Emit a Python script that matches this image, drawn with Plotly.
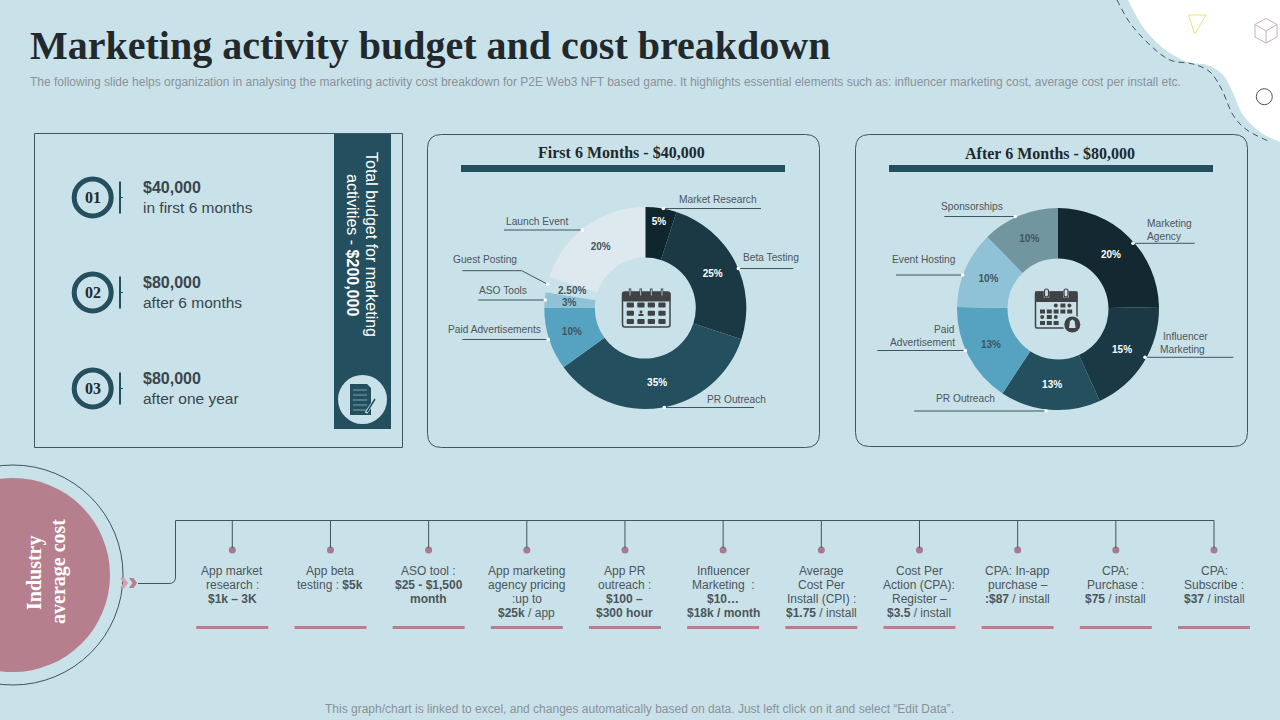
import plotly.graph_objects as go

BG = "#C9E1E9"
TEAL = "#234F5E"
ROSE = "#B67F8D"
LINE = "#3F5560"
TXT = "#4C565B"
DARK = "#3A464C"
ICON = "#404346"

# first donut
first_labels = ["Market Research", "Beta Testing", "PR Outreach", "Paid Advertisements",
                "ASO Tools", "Guest Posting", "Launch Event"]
first_values = [5, 25, 35, 10, 2.5, 2.5, 20]
first_text = ["5%", "25%", "35%", "10%", "", "", "20%"]
first_colors = ["#10262D", "#1B3945", "#234F5E", "#55A3C0", "#90C2D7", "#C9E1E9", "#DDE9EE"]
first_textcol = ["white", "white", "white", "#3F5560", "#3F5560", "#3F5560", "#3F5560"]

# second donut
second_labels = ["Marketing Agency", "Influencer Marketing", "PR Outreach",
                 "Paid Advertisement", "Event Hosting", "Sponsorships"]
second_values = [20, 15, 13, 13, 10, 10]
second_text = ["20%", "15%", "13%", "13%", "10%", "10%"]
second_colors = ["#132830", "#1B3945", "#234F5E", "#55A3C0", "#90C2D7", "#71969F"]
second_textcol = ["white", "white", "white", "#3F5560", "#3F5560", "#3F5560"]

budget_amounts = ["$40,000", "$80,000", "$80,000"]
budget_notes = ["in first 6 months", "after 6 months", "after one year"]

cost_lines = [
    ["App market", "research :", "<b>$1k – 3K</b>"],
    ["App beta", "testing : <b>$5k</b>"],
    ["ASO tool :", "<b>$25 - $1,500</b>", "<b>month</b>"],
    ["App marketing", "agency pricing", ":up to", "<b>$25k</b> / app"],
    ["App PR", "outreach :", "<b>$100 –</b>", "<b>$300 hour</b>"],
    ["Influencer", "Marketing  :", "<b>$10…</b>", "<b>$18k / month</b>"],
    ["Average", "Cost Per", "Install (CPI) :", "<b>$1.75</b> / install"],
    ["Cost Per", "Action (CPA):", "Register –", "<b>$3.5</b> / install"],
    ["CPA: In-app", "purchase –", "<b>:$87</b> / install"],
    ["CPA:", "Purchase :", "<b>$75</b> / install"],
    ["CPA:", "Subscribe :", "<b>$37</b> / install"],
]

W, H = 1280, 720
shapes = []
notes = []


def rect(x0, y0, x1, y1, fill, layer="below"):
    shapes.append(dict(type="rect", x0=x0, y0=y0, x1=x1, y1=y1, fillcolor=fill,
                       line_width=0, layer=layer))


def seg(pts, color=LINE, width=1, layer="above", dash=None):
    d = "M" + " L".join(f"{x},{y}" for x, y in pts)
    shapes.append(dict(type="path", path=d, line=dict(color=color, width=width, dash=dash), layer=layer))


def poly(pts, fill, layer="above"):
    d = "M" + " L".join(f"{x},{y}" for x, y in pts) + " Z"
    shapes.append(dict(type="path", path=d, fillcolor=fill, line_width=0, layer=layer))


def circle(cx, cy, r, fill=None, color=None, width=0, layer="above"):
    shapes.append(dict(type="circle", x0=cx - r, y0=cy - r, x1=cx + r, y1=cy + r,
                       fillcolor=fill or "rgba(0,0,0,0)",
                       line=dict(color=color or "rgba(0,0,0,0)", width=width), layer=layer))


def rrect(x0, y0, x1, y1, r, color=LINE, width=1, fill=None, layer="below"):
    d = (f"M{x0+r},{y0} L{x1-r},{y0} Q{x1},{y0} {x1},{y0+r} L{x1},{y1-r} Q{x1},{y1} {x1-r},{y1} "
         f"L{x0+r},{y1} Q{x0},{y1} {x0},{y1-r} L{x0},{y0+r} Q{x0},{y0} {x0+r},{y0} Z")
    shapes.append(dict(type="path", path=d, line=dict(color=color, width=width),
                       fillcolor=fill or "rgba(0,0,0,0)", layer=layer))


def smooth(pts):
    # catmull-rom through the points, gives the wavy corner outline
    d = f"M{pts[0][0]},{pts[0][1]}"
    for i in range(len(pts) - 1):
        p0 = pts[max(i - 1, 0)]
        p1, p2 = pts[i], pts[i + 1]
        p3 = pts[min(i + 2, len(pts) - 1)]
        c1 = (p1[0] + (p2[0] - p0[0]) / 6, p1[1] + (p2[1] - p0[1]) / 6)
        c2 = (p2[0] - (p3[0] - p1[0]) / 6, p2[1] - (p3[1] - p1[1]) / 6)
        d += f" C{c1[0]:.1f},{c1[1]:.1f} {c2[0]:.1f},{c2[1]:.1f} {p2[0]},{p2[1]}"
    return d


def text(x, y, s, size=12, color=TXT, font="Liberation Sans", anchor="center", vanchor="middle", angle=0):
    notes.append(dict(x=x, y=y, text=s, showarrow=False, xanchor=anchor, yanchor=vanchor,
                      textangle=angle, borderpad=0, borderwidth=0,
                      font=dict(family=font, size=size, color=color)))


def leader(pts):
    seg(pts, color=LINE, width=1)
    circle(pts[-1][0], pts[-1][1], 1.8, fill="white")


# corner blob
blob = [(1128, 0), (1143, 27), (1163, 48), (1187, 62), (1207, 65), (1223, 75), (1233, 93),
        (1243, 115), (1260, 132), (1280, 142)]
shapes.append(dict(type="path", path=smooth(blob) + " L1280,0 Z", fillcolor="white", line_width=0, layer="below"))
dash_pts = [(1117, 0), (1130, 23), (1150, 45), (1170, 60), (1193, 64), (1210, 72), (1222, 90),
            (1233, 115), (1247, 130), (1268, 141)]
shapes.append(dict(type="path", path=smooth(dash_pts), line=dict(color=LINE, width=1, dash="6px,4px"), layer="below"))
seg([(1188.5, 15), (1206, 15), (1194.7, 34), (1188.5, 15)], color="#EFE27A", width=1)
hex_pts = [(1266, 18.5), (1277, 24.5), (1277, 37), (1266, 43), (1255, 37), (1255, 24.5), (1266, 18.5)]
seg(hex_pts, color="#C9AEBB", width=1)
seg([(1255, 24.5), (1266, 31), (1277, 24.5)], color="#C9AEBB", width=1)
seg([(1266, 31), (1266, 43)], color="#C9AEBB", width=1)
circle(1264.3, 96.7, 8, color=LINE, width=1)

# title block
text(30, 45, "<b>Marketing activity budget and cost breakdown</b>", size=40, color="#22292D",
     font="Liberation Serif", anchor="left")
text(30, 81.5, "The following slide helps organization in analysing the marketing activity cost breakdown "
     "for P2E Web3 NFT based game. It highlights essential elements such as: influencer marketing cost, "
     "average cost per install etc.", size=12, color="#8A9299", anchor="left")
text(639, 708.5, "This graph/chart is linked to excel, and changes automatically based on data. "
     "Just left click on it and select “Edit Data”.", size=12, color="#8A9299")

# left panel
shapes.append(dict(type="rect", x0=34.5, y0=133.5, x1=402.5, y1=447.5, line=dict(color=LINE, width=1), layer="below"))
rect(334, 134, 391, 429, TEAL)
text(371.5, 244.5, "Total budget for marketing", size=16, color="white", angle=90)
text(352.5, 244.5, "activities - <b>$200,000</b>", size=16, color="white", angle=90)
circle(362.5, 399.5, 24.5, fill="#C9E1E9")
poly([(350, 384), (367, 384), (371, 388), (371, 415), (350, 415)], TEAL)
for ly in (390, 395, 400, 405, 410):
    seg([(353, ly), (367, ly)], color="#7FA6B3", width=1)
seg([(366, 413), (376, 398)], color="#C9E1E9", width=3)
seg([(367, 412), (375, 399)], color=TEAL, width=1.5)

for i, cy in enumerate((197.5, 292.5, 388.5)):
    circle(92.7, cy, 18.5, color=TEAL, width=5)
    text(92.7, cy, f"<b>{i + 1:02d}</b>", size=16, color="#22292D", font="Liberation Serif")
    seg([(120, cy - 16), (120, cy + 16)], color=TEAL, width=2)
    seg([(120, cy), (123, cy)], color=TEAL, width=1)
    text(143, cy - 10, f"<b>{budget_amounts[i]}</b>", size=16, color=DARK, anchor="left")
    text(143, cy + 9.5, budget_notes[i], size=15.5, color=DARK, anchor="left")

# donut panels
rrect(427.5, 134.5, 819.5, 447.5, 14)
rrect(855.5, 134.5, 1247.5, 446.5, 14)
rect(461, 165, 785, 172, TEAL)
rect(889, 165, 1213, 172, TEAL)
text(621, 152.5, "<b>First 6 Months - $40,000</b>", size=16, color="#22292D", font="Liberation Serif")
text(1049.5, 153.5, "<b>After 6 Months - $80,000</b>", size=16, color="#22292D", font="Liberation Serif")

# first donut leaders
leader([(761, 208.5), (663.3, 208.5)])
text(718, 199.5, "Market Research", size=10.2)
leader([(793.3, 268.5), (738.3, 268.5)])
text(771, 257, "Beta Testing", size=10.2)
leader([(754, 407.5), (664.3, 407.5)])
text(736, 399.5, "PR Outreach", size=10.2)
leader([(462.3, 339.5), (548.3, 339.5)])
text(494.7, 329.7, "Paid Advertisements", size=10.2)
leader([(478.3, 300), (545.3, 300)])
text(502.7, 290.7, "ASO Tools", size=10.2)
leader([(462.3, 270.7), (521.7, 270.7), (547.7, 284.3)])
text(485, 259.7, "Guest Posting", size=10.2)
leader([(504, 230), (582.3, 230)])
text(537, 221.7, "Launch Event", size=10.2)
text(571.7, 290.3, "<b>2.50%</b>", size=10, color=LINE)
text(569.3, 302.7, "<b>3%</b>", size=10, color=LINE)

# second donut leaders
leader([(944.3, 216.5), (1015.3, 216.5)])
text(971.7, 206.7, "Sponsorships", size=10.2)
leader([(1194.7, 243.3), (1133, 243.3)])
text(1147.3, 223.7, "Marketing", size=10.2, anchor="left")
text(1147.3, 236.7, "Agency", size=10.2, anchor="left")
leader([(896, 275), (962.7, 275)])
text(924, 259.7, "Event Hosting", size=10.2)
leader([(1233.3, 357.3), (1145, 357.3)])
text(1185, 336.7, "Influencer", size=10.2)
text(1182, 349.7, "Marketing", size=10.2)
leader([(877.3, 350.5), (965.3, 350.5)])
text(955, 329.7, "Paid", size=10.2, anchor="right")
text(955, 342.7, "Advertisement", size=10.2, anchor="right")
leader([(914.3, 411), (1046, 411)])
text(965, 398.7, "PR Outreach", size=10.2)

# calendar icon, first donut
rrect(622.5, 292, 670, 327, 2.5, color=ICON, width=1.5, fill=BG, layer="above")
rrect(622, 292, 670.5, 301.5, 2.5, color=ICON, width=0, fill=ICON, layer="above")
for rx in (630, 640.7, 651.3, 662):
    rect(rx - 1.2, 288.5, rx + 1.2, 296.5, ICON, layer="above")
    rect(rx - 0.4, 289.5, rx + 0.4, 295.5, BG, layer="above")
for ry in (302.5, 310.8, 319):
    for rx in (626.7, 637.3, 647.7, 658.3):
        rrect(rx, ry, rx + 7.3, ry + 5, 1, width=0, fill=ICON, layer="above")
rect(637, 310.5, 645, 316, BG, layer="above")
circle(641, 312, 1.5, fill=ICON)
rect(638.5, 314, 643.5, 316, ICON, layer="above")

# calendar icon, second donut
rrect(1035.5, 292, 1077, 328, 1.5, color=ICON, width=1.5, fill=BG, layer="above")
rect(1035, 291.5, 1077.5, 302, ICON, layer="above")
for rx in (1046.5, 1066):
    rect(rx - 2.7, 288.5, rx + 2.7, 297.5, BG, layer="above")
    rrect(rx - 2, 289, rx + 2, 297, 2, color=ICON, width=1.2, fill=BG, layer="above")
for r, ry in enumerate((303.5, 309.5, 315, 321)):
    for c in range(5):
        if (r == 0 and c < 2) or (r == 2 and c > 2) or (r == 3 and c > 2):
            continue
        rx = 1040 + c * 6.8
        if (r + c) % 2 == 0 and r in (0, 2):
            circle(rx + 2.2, ry + 2, 2, fill=ICON)
        else:
            rect(rx, ry, rx + 5, ry + 4, ICON, layer="above")
circle(1072.3, 324.5, 9.5, fill=BG)
circle(1072.3, 324.5, 8, fill=ICON)
poly([(1069, 328), (1070, 321), (1072.3, 319.5), (1074.6, 321), (1075.6, 328)], BG)

# industry average cost side
circle(13, 575, 110, color=LINE, width=1, layer="below")
circle(13, 575, 97, fill=ROSE, layer="below")
text(34, 573, "<b>Industry</b>", size=20, color="white", font="Liberation Serif", angle=-90)
text(58, 572, "<b>average cost</b>", size=20, color="white", font="Liberation Serif", angle=-90)
poly([(120, 578), (124.5, 578), (128, 583), (124.5, 588), (120, 588), (123.5, 583)], "#D2A4AF")
poly([(129, 578), (133.5, 578), (137, 583), (133.5, 588), (129, 588), (132.5, 583)], ROSE)
shapes.append(dict(type="path", layer="above", line=dict(color=LINE, width=1),
                   path="M138,583.5 L169,583.5 Q175.5,583.5 175.5,577 L175.5,520.5 L1214,520.5"))

cost_x = [232.3 + k * 98.17 for k in range(len(cost_lines))]
for cx, lines in zip(cost_x, cost_lines):
    seg([(cx, 520.5), (cx, 548)], width=1)
    rect(cx - 36, 626, cx + 36, 629, ROSE)
    for j, s in enumerate(lines):
        text(cx, 571 + j * 14, s, size=12)

fig = go.Figure()
# pink end dots of the timeline, also gives the pixel axes for everything else
fig.add_trace(go.Scatter(x=cost_x, y=[550] * len(cost_x), mode="markers", showlegend=False,
                         marker=dict(size=7, color="#A87A8C"), hoverinfo="skip"))


def donut(cx, cy, r, labels, values, txt, colors, textcol):
    fig.add_trace(go.Pie(
        labels=labels, values=values, text=txt, textinfo="text", sort=False, direction="clockwise",
        rotation=0, hole=0.5, showlegend=False, textposition="inside", insidetextorientation="horizontal",
        marker=dict(colors=colors, line=dict(width=0)),
        textfont=dict(family="Liberation Sans", size=10, color=textcol, weight="bold"),
        domain=dict(x=[(cx - r) / W, (cx + r) / W], y=[1 - (cy + r) / H, 1 - (cy - r) / H]),
    ))


donut(645.3, 308, 101, first_labels, first_values, first_text, first_colors, first_textcol)
donut(1058, 309, 101, second_labels, second_values, second_text, second_colors, second_textcol)

fig.update_layout(
    width=W, height=H, margin=dict(l=0, r=0, t=0, b=0), paper_bgcolor=BG, plot_bgcolor=BG,
    xaxis=dict(range=[0, W], visible=False, fixedrange=True),
    yaxis=dict(range=[H, 0], visible=False, fixedrange=True),
    shapes=shapes, annotations=notes,
)

# the page's default body margin would push the slide 8px in
fig.write_html("out.html", config={"displayModeBar": False},
               post_script="document.body.style.margin='0';document.body.style.overflow='hidden';")
